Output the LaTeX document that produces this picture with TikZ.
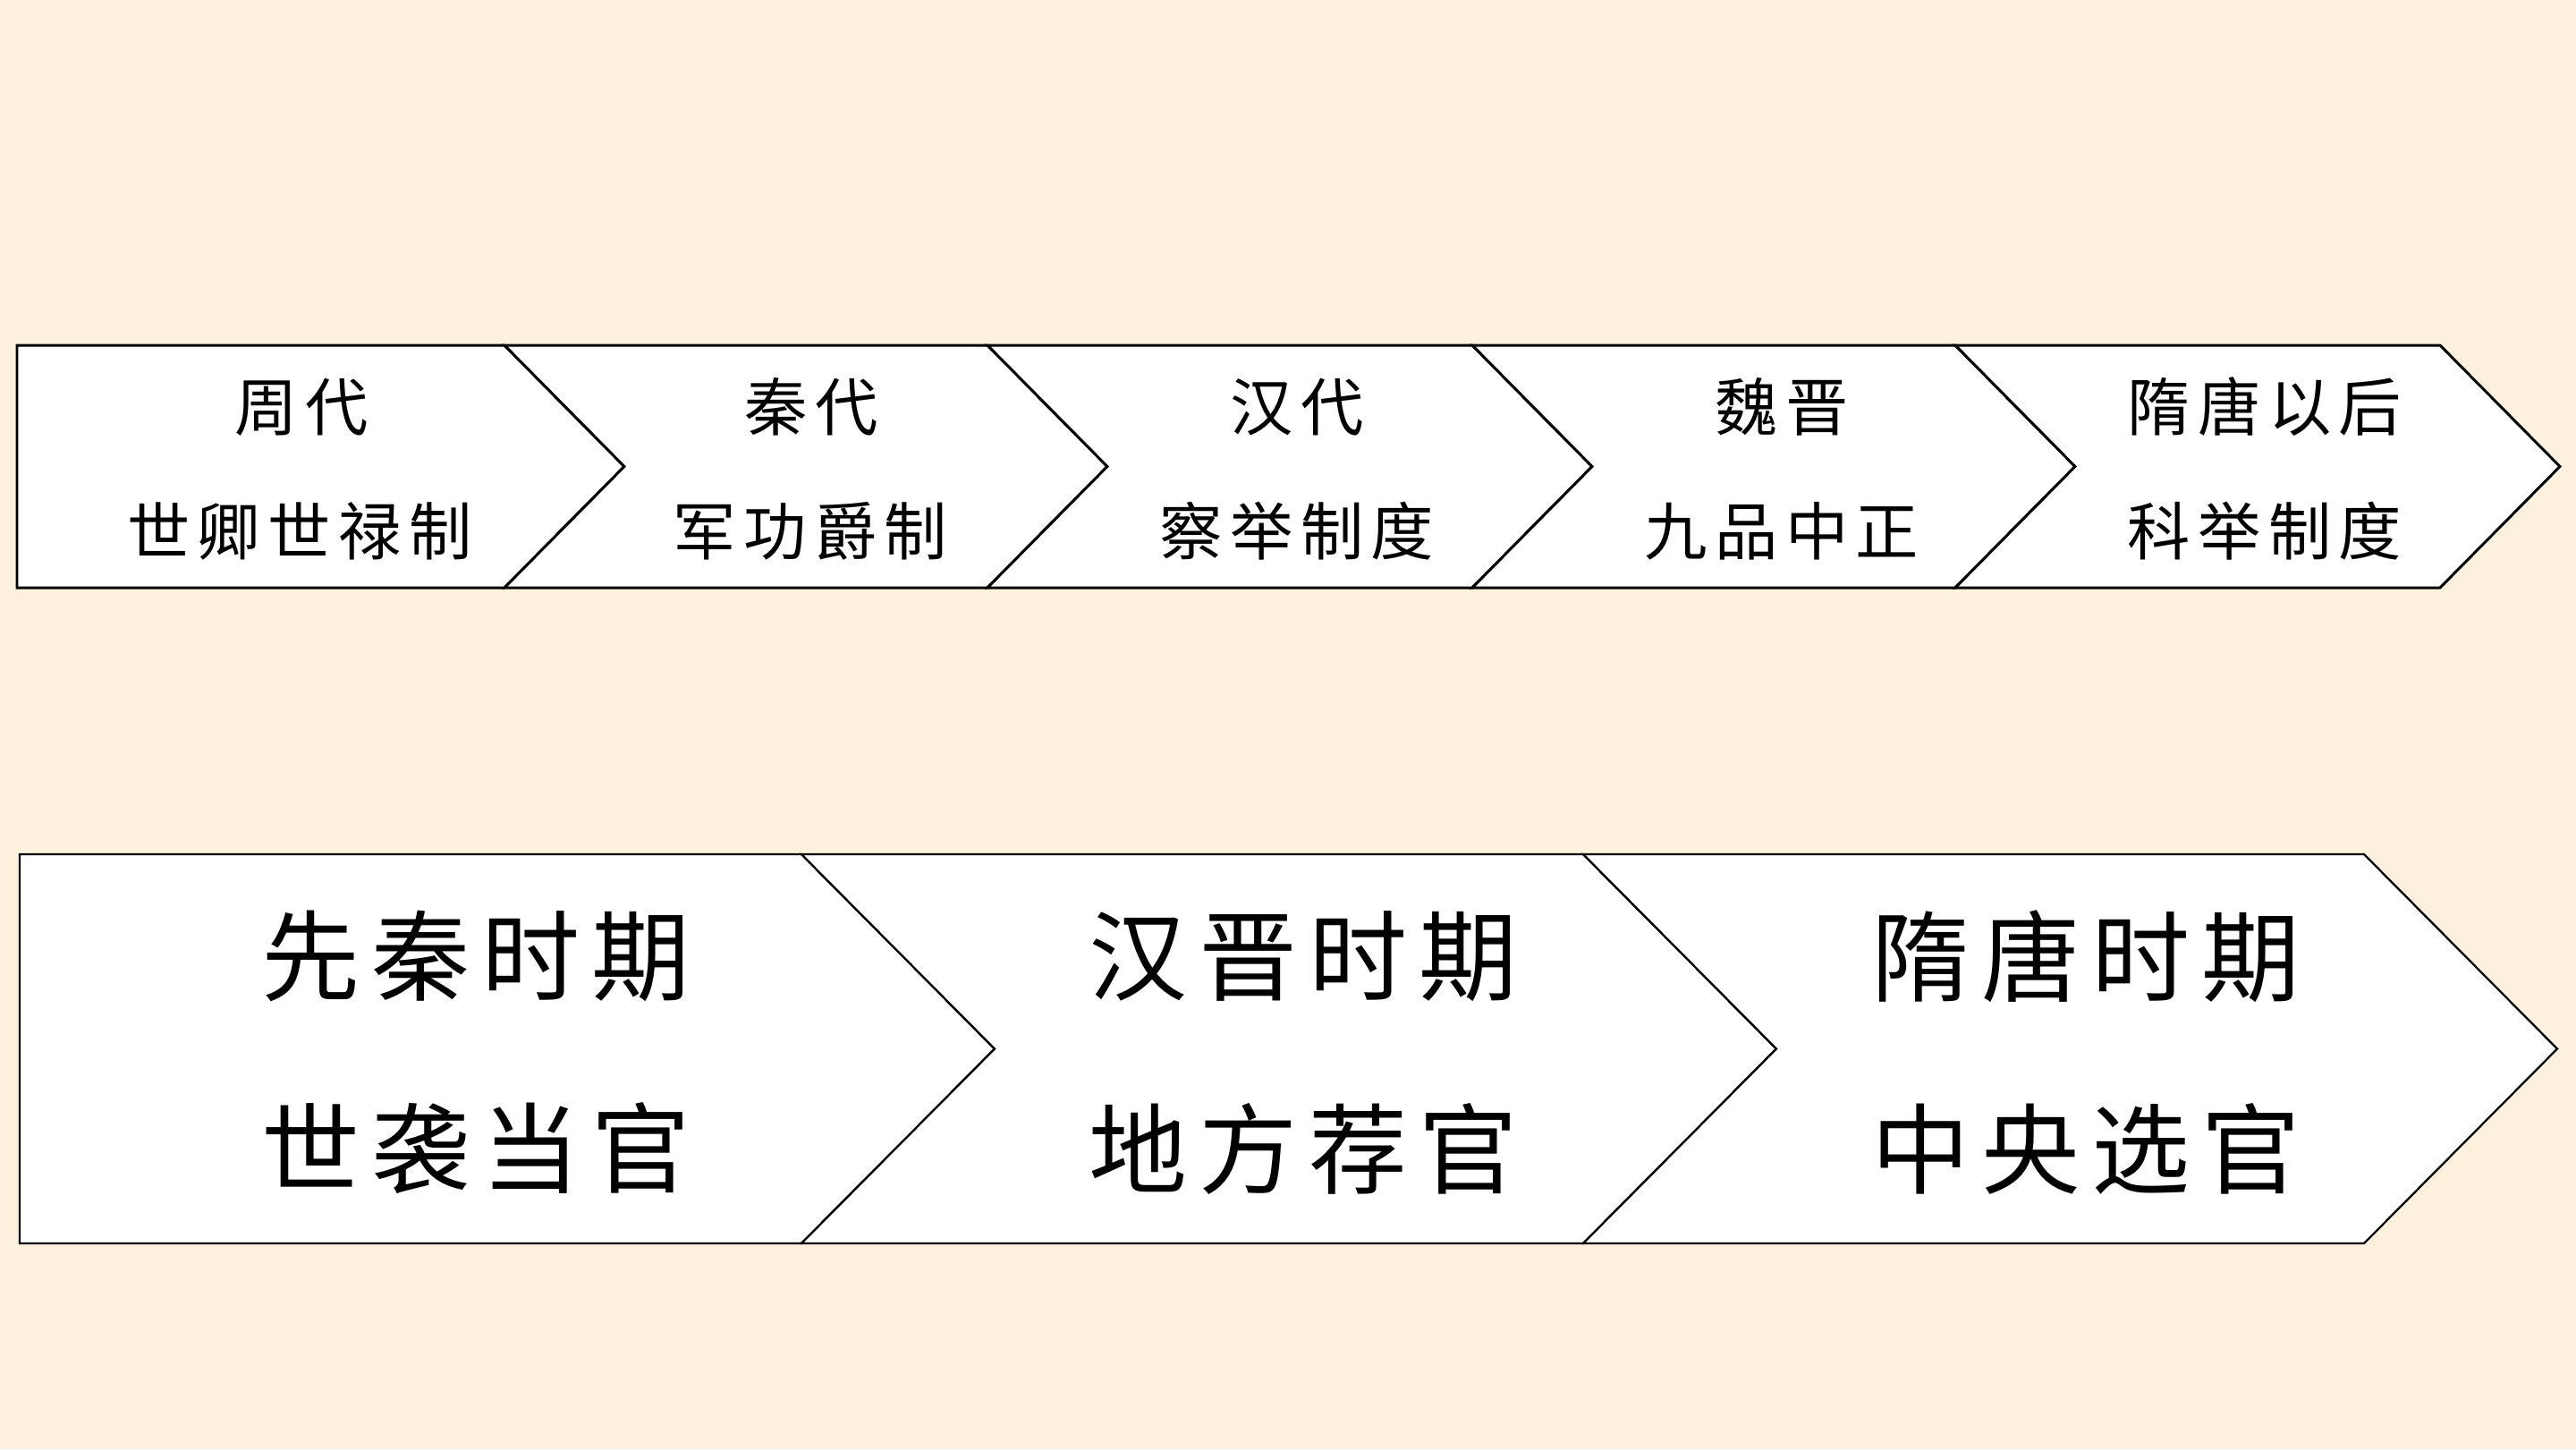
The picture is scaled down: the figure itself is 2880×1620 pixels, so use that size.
\documentclass[tikz,border=0pt]{standalone}
\usepackage{fontspec}
\newfontfamily\cjksmall[LetterSpace=12]{Noto Sans CJK SC}
\newfontfamily\cjkbig[LetterSpace=12]{Noto Sans CJK SC}
\definecolor{bg}{HTML}{FDF0DD}
\tikzset{
  toprow/.style={draw=black, fill=white, line width=0.85pt, line join=miter},
  botrow/.style={draw=black, fill=white, line width=0.65pt, line join=miter},
  smalltext/.style={inner sep=0pt, font=\cjksmall\fontsize{20pt}{24pt}\selectfont},
  bigtext/.style={inner sep=0pt, font=\cjkbig\fontsize{31.3pt}{36pt}\selectfont}
}
\begin{document}
\begin{tikzpicture}[x=0.01cm,y=-0.01cm]
\useasboundingbox[fill=bg] (0,0) rectangle (2880,1620);
% top row chevrons
\def\tt{386}\def\tb{657}\def\tm{521.5}\def\td{134}
\draw[toprow] (19,\tt) -- (564,\tt) -- (698,\tm) -- (564,\tb) -- (19,\tb) -- cycle;
\foreach \l/\r in {564/1104, 1104/1646, 1646/2186, 2186/2728}{
  \draw[toprow] (\l,\tt) -- (\r,\tt) -- (\r+\td,\tm) -- (\r,\tb) -- (\l,\tb) -- (\l+\td,\tm) -- cycle;
}
% bottom row chevrons
\def\bt{955}\def\bb{1390}\def\bm{1172.5}\def\bd{216}
\draw[botrow] (22,\bt) -- (896,\bt) -- (896+\bd,\bm) -- (896,\bb) -- (22,\bb) -- cycle;
\foreach \l/\r in {896/1770, 1770/2643}{
  \draw[botrow] (\l,\bt) -- (\r,\bt) -- (\r+\bd,\bm) -- (\r,\bb) -- (\l,\bb) -- (\l+\bd,\bm) -- cycle;
}
% top row texts
\node[smalltext] (a1) at (337,455) {周代};
\node[smalltext] (a2) at (335,594) {世卿世禄制};
\node[smalltext] (b1) at (907,455) {秦代};
\node[smalltext] (b2) at (906,594) {军功爵制};
\node[smalltext] (c1) at (1450,455) {汉代};
\node[smalltext] (c2) at (1450,594) {察举制度};
\node[smalltext] (d1) at (1992,455) {魏晋};
\node[smalltext] (d2) at (1992,594) {九品中正};
\node[smalltext] (e1) at (2532,455) {隋唐以后};
\node[smalltext] (e2) at (2532,594) {科举制度};
% bottom row texts
\node[bigtext] (f1) at (532,1069) {先秦时期};
\node[bigtext] (f2) at (532,1284) {世袭当官};
\node[bigtext] (g1) at (1457,1069) {汉晋时期};
\node[bigtext] (g2) at (1457,1284) {地方荐官};
\node[bigtext] (h1) at (2332,1069) {隋唐时期};
\node[bigtext] (h2) at (2332,1284) {中央选官};
\end{tikzpicture}
\end{document}
